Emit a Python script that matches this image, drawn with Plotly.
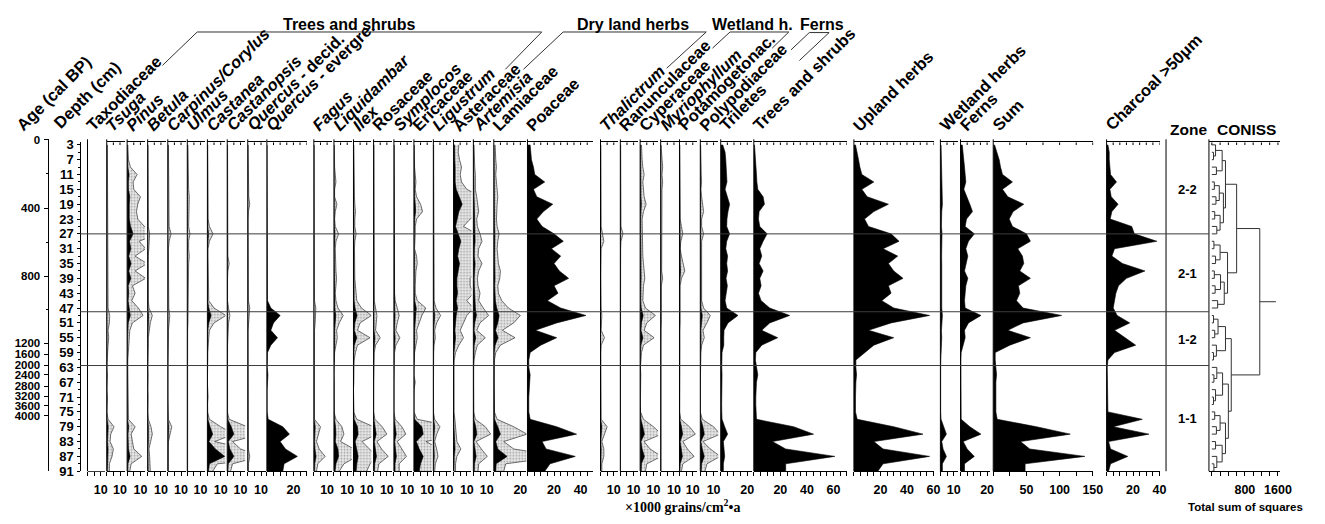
import plotly.graph_objects as go

W, H = 1325, 524


def fx(p):
    """pixel column -> paper x"""
    return p / W


def fy(p):
    """pixel row -> paper y"""
    return 1 - p / H


# ---------------------------------------------------------------- data
depth_cm = [3, 5, 7, 9, 11, 13, 15, 17, 19, 21, 23, 25, 27, 29, 31,
            33, 35, 37, 39, 41, 43, 45, 47, 49, 51, 53, 55, 57, 59, 61,
            63, 65, 67, 69, 71, 73, 75, 77, 79, 81, 83, 85, 87, 89, 91]
depth_labels = [3, 7, 11, 15, 19, 23, 27, 31, 35, 39, 43, 47,
                51, 55, 59, 63, 67, 71, 75, 79, 83, 87, 91]
depth_minor = [5, 9, 13, 17, 21, 25, 29, 33, 37, 41, 45, 49,
               53, 57, 61, 65, 69, 73, 77, 81, 85, 89]
age_labels = [0, 400, 800, 1200, 1600, 2000, 2400, 2800, 3200, 3600, 4000]
age_label_depth = [1.6, 20.1, 38.4, 56.5, 59.4, 62.4, 65.0, 68.1, 70.8, 73.3, 76.0]
age_minor_depth = [10.8, 29.2, 47.4]

zone_boundaries = [27, 48, 62.5]
zone_names = ["2-2", "2-1", "1-2", "1-1"]
zone_label_depth = [15.0, 37.7, 55.5, 76.7]

# influx values, x1000 grains/cm2/a, one value per sample depth
taxodiaceae = [0.1, 0.1, 0.1, 0.1, 0.1, 0.1, 0.1, 0.1, 0.1, 0.1, 0.1, 0.1, 0.1, 0.1, 0.1,
               0.2, 0.3, 0.1, 0.2, 0.3, 0.1, 0.2, 1.0, 2.0, 1.7, 1.0, 1.6, 1.7, 0.5, 0.1,
               0.0, 0.0, 0.1, 0.0, 0.1, 0.0, 0.0, 0.2, 0.7, 1.3, 0.3, 0.8, 2.6, 1.0, 1.0]
tsuga = [0.1, 0.1, 0.1, 0.1, 0.1, 0.1, 0.1, 0.1, 0.1, 0.1, 0.1, 0.1, 0.2, 0.1, 0.1,
         0.1, 0.1, 0.1, 0.1, 0.1, 0.1, 0.1, 0.2, 0.45, 0.4, 0.2, 0.3, 0.2, 0.1, 0.1,
         0.0, 0.1, 0.0, 0.0, 0.1, 0.0, 0.0, 0.2, 1.1, 0.6, 0.5, 1.0, 0.8, 0.4, 0.4]
pinus = [0.1, 0.1, 0.2, 0.5, 1.5, 0.9, 1.0, 2.0, 1.6, 1.4, 1.6, 2.6, 4.5, 1.8, 2.8,
         1.2, 3.0, 1.2, 2.8, 0.8, 1.2, 0.7, 1.7, 2.4, 0.8, 0.4, 0.3, 0.2, 0.2, 0.1,
         0.1, 0.1, 0.1, 0.1, 0.1, 0.1, 0.1, 0.2, 1.2, 0.6, 0.8, 1.0, 2.2, 0.6, 0.4]
betula = [0.05, 0.05, 0.1, 0.05, 0.1, 0.05, 0.1, 0.1, 0.1, 0.05, 0.1, 0.1, 0.3, 0.2, 0.1,
          0.1, 0.1, 0.1, 0.1, 0.05, 0.1, 0.1, 0.2, 0.7, 0.4, 0.2, 0.1, 0.1, 0.05, 0.05,
          0.0, 0.05, 0.0, 0.0, 0.05, 0.0, 0.0, 0.1, 0.5, 0.7, 0.5, 0.2, 0.3, 0.4, 0.4]
carpinus_corylus = [0.1, 0.1, 0.1, 0.1, 0.1, 0.1, 0.1, 0.1, 0.15, 0.1, 0.1, 0.2, 0.5, 0.2, 0.1,
                    0.1, 0.15, 0.1, 0.1, 0.1, 0.1, 0.1, 0.15, 0.3, 0.15, 0.1, 0.1, 0.05, 0.05, 0.05,
                    0.0, 0.0, 0.05, 0.0, 0.0, 0.0, 0.0, 0.1, 0.6, 0.3, 0.1, 0.1, 0.15, 0.1, 0.1]
ulmus = [0.1, 0.1, 0.15, 0.15, 0.2, 0.2, 0.2, 0.3, 0.3, 0.3, 0.2, 0.2, 0.4, 0.2, 0.2,
         0.3, 0.2, 0.2, 0.15, 0.15, 0.1, 0.1, 0.1, 0.1, 0.1, 0.05, 0.1, 0.05, 0.05, 0.05,
         0.0, 0.0, 0.0, 0.0, 0.0, 0.0, 0.0, 0.05, 0.1, 0.1, 0.05, 0.05, 0.1, 0.05, 0.05]
castanea = [0.05, 0.05, 0.05, 0.05, 0.05, 0.05, 0.05, 0.1, 0.1, 0.1, 0.1, 0.3, 0.85, 0.3, 0.1,
            0.1, 0.1, 0.1, 0.1, 0.1, 0.1, 0.2, 1.0, 2.8, 1.0, 0.3, 0.2, 0.1, 0.05, 0.05,
            0.0, 0.05, 0.0, 0.05, 0.1, 0.0, 0.0, 0.3, 2.0, 4.0, 1.1, 6.0, 13.0, 1.5, 0.8]
castanopsis = [0.05, 0.05, 0.05, 0.05, 0.05, 0.05, 0.05, 0.05, 0.1, 0.05, 0.05, 0.05, 0.1, 0.05, 0.05,
               0.1, 0.3, 0.1, 0.05, 0.05, 0.05, 0.05, 0.2, 0.4, 0.2, 0.1, 0.1, 0.05, 0.05, 0.05,
               0.0, 0.0, 0.0, 0.0, 0.0, 0.0, 0.0, 0.3, 3.0, 5.0, 0.8, 2.0, 5.0, 0.8, 0.5]
quercus_decid = [0.05, 0.05, 0.05, 0.05, 0.05, 0.05, 0.1, 0.15, 0.3, 0.1, 0.05, 0.05, 0.05, 0.05, 0.05,
                 0.05, 0.05, 0.05, 0.05, 0.05, 0.05, 0.1, 0.3, 0.2, 0.1, 0.05, 0.05, 0.05, 0.05, 0.05,
                 0.0, 0.0, 0.0, 0.0, 0.0, 0.0, 0.0, 0.05, 0.1, 0.1, 0.05, 0.1, 0.3, 0.1, 0.1]
quercus_evergr = [0.2, 0.2, 0.2, 0.2, 0.2, 0.2, 0.2, 0.2, 0.2, 0.2, 0.2, 0.2, 0.2, 0.2, 0.2,
                  0.2, 0.2, 0.2, 0.2, 0.2, 0.2, 0.5, 3.0, 10.0, 5.0, 3.0, 8.0, 3.0, 0.5, 0.3,
                  0.3, 0.8, 0.3, 0.2, 0.2, 0.2, 0.2, 1.0, 12.0, 17.0, 10.0, 14.0, 23.0, 13.0, 12.0]
fagus = [0.05, 0.05, 0.05, 0.05, 0.1, 0.05, 0.05, 0.1, 0.1, 0.05, 0.05, 0.1, 0.1, 0.05, 0.05,
         0.05, 0.1, 0.05, 0.05, 0.05, 0.1, 0.1, 0.3, 0.3, 0.2, 0.1, 0.1, 0.05, 0.05, 0.05,
         0.0, 0.0, 0.0, 0.0, 0.0, 0.0, 0.0, 0.1, 1.0, 0.7, 0.4, 0.8, 1.7, 0.6, 0.4]
liquidambar = [0.05, 0.05, 0.1, 0.1, 0.2, 0.3, 0.1, 0.1, 0.45, 0.2, 0.1, 0.2, 0.7, 0.3, 0.2,
               0.2, 0.3, 0.3, 0.4, 0.3, 0.2, 0.3, 0.6, 1.4, 0.8, 0.4, 0.5, 0.3, 0.1, 0.05,
               0.0, 0.0, 0.05, 0.0, 0.0, 0.0, 0.0, 0.3, 1.2, 1.5, 1.0, 3.0, 3.5, 1.5, 0.8]
ilex = [0.05, 0.05, 0.05, 0.05, 0.1, 0.1, 0.1, 0.15, 0.2, 0.3, 0.2, 0.2, 0.4, 0.2, 0.15,
        0.15, 0.2, 0.2, 0.2, 0.3, 0.4, 0.5, 1.2, 2.7, 1.0, 0.6, 2.5, 0.6, 0.3, 0.1,
        0.05, 0.1, 0.05, 0.0, 0.05, 0.0, 0.0, 0.5, 3.0, 3.5, 1.3, 2.5, 3.5, 2.5, 2.0]
rosaceae = [0.05, 0.05, 0.05, 0.05, 0.1, 0.1, 0.05, 0.1, 0.1, 0.1, 0.1, 0.1, 0.15, 0.1, 0.1,
            0.1, 0.1, 0.1, 0.1, 0.1, 0.1, 0.1, 0.3, 0.5, 0.4, 0.3, 1.0, 0.3, 0.1, 0.05,
            0.0, 0.0, 0.0, 0.0, 0.0, 0.0, 0.0, 0.2, 1.3, 2.0, 0.5, 1.2, 2.2, 0.8, 0.6]
symplocos = [0.05, 0.05, 0.05, 0.05, 0.1, 0.05, 0.05, 0.1, 0.1, 0.05, 0.05, 0.1, 0.1, 0.05, 0.05,
             0.05, 0.1, 0.05, 0.05, 0.05, 0.1, 0.2, 0.5, 0.8, 0.5, 0.3, 0.9, 0.3, 0.1, 0.05,
             0.0, 0.0, 0.0, 0.0, 0.0, 0.0, 0.0, 0.2, 1.2, 1.8, 0.5, 1.2, 1.9, 0.8, 0.8]
ericaceae = [0.05, 0.05, 0.1, 0.1, 0.2, 0.3, 0.2, 0.4, 1.0, 1.3, 0.4, 0.2, 0.2, 0.2, 0.1,
             0.4, 0.5, 0.3, 0.2, 0.2, 0.2, 0.5, 1.8, 1.2, 0.8, 0.4, 0.5, 0.3, 0.1, 0.05,
             0.0, 0.0, 0.2, 0.0, 0.0, 0.0, 0.0, 0.5, 6.0, 7.0, 1.8, 4.0, 7.0, 5.0, 4.0]
ligustrum = [0.05, 0.05, 0.05, 0.05, 0.05, 0.05, 0.05, 0.05, 0.05, 0.05, 0.05, 0.05, 0.1, 0.05, 0.05,
             0.05, 0.05, 0.05, 0.05, 0.05, 0.05, 0.1, 0.4, 1.1, 0.5, 0.2, 0.3, 0.1, 0.05, 0.05,
             0.0, 0.0, 0.0, 0.0, 0.0, 0.0, 0.0, 0.2, 1.0, 0.5, 0.2, 0.5, 0.7, 0.3, 0.2]
asteraceae = [0.8, 0.7, 0.9, 1.2, 1.0, 1.2, 2.0, 4.0, 6.5, 4.0, 2.5, 1.5, 3.5, 5.5, 4.0,
              3.0, 4.5, 3.5, 2.5, 2.5, 3.0, 2.0, 3.0, 2.0, 1.5, 1.0, 1.5, 0.8, 0.3, 0.1,
              0.05, 0.1, 0.05, 0.05, 0.05, 0.05, 0.05, 0.2, 0.3, 0.4, 0.5, 1.1, 0.5, 0.3, 0.3]
artemisia = [0.1, 0.1, 0.2, 0.2, 0.3, 0.3, 0.3, 0.5, 0.7, 0.8, 0.5, 0.6, 1.0, 1.3, 0.8,
             0.7, 1.3, 0.8, 0.6, 0.7, 1.0, 0.8, 1.5, 2.3, 1.0, 0.5, 1.8, 0.6, 0.3, 0.1,
             0.05, 0.05, 0.05, 0.05, 0.05, 0.05, 0.05, 0.3, 1.8, 2.6, 0.4, 1.2, 2.1, 0.8, 0.7]
lamiaceae = [0.2, 0.2, 0.3, 0.4, 0.3, 0.4, 0.5, 0.6, 0.5, 0.4, 0.4, 0.5, 0.8, 0.6, 0.5,
             0.6, 0.7, 1.0, 0.9, 0.6, 0.7, 1.2, 2.2, 4.0, 3.0, 1.3, 3.2, 1.0, 0.3, 0.1,
             0.1, 0.1, 0.1, 0.1, 0.1, 0.1, 0.1, 0.5, 3.0, 5.0, 1.5, 3.0, 10.0, 1.8, 1.5]
poaceae = [2, 2.5, 3, 4.5, 5.5, 13, 4.5, 7, 19, 12, 7, 11, 20, 27, 18,
           25, 20, 24, 31, 20, 23, 15, 25, 44, 22, 6, 22, 10, 2, 1,
           1, 2, 1.5, 1, 1, 1, 1, 2, 22, 37, 11, 14, 36, 17, 13]
thalictrum = [0.05, 0.05, 0.05, 0.05, 0.05, 0.05, 0.05, 0.05, 0.1, 0.05, 0.05, 0.1, 0.3, 0.5, 0.1,
              0.05, 0.05, 0.05, 0.05, 0.05, 0.05, 0.05, 0.1, 0.2, 0.1, 0.1, 0.6, 0.1, 0.05, 0.05,
              0.0, 0.0, 0.0, 0.0, 0.0, 0.0, 0.0, 0.1, 1.0, 0.6, 0.2, 0.5, 0.5, 0.2, 0.2]
ranunculaceae = [0.05, 0.05, 0.05, 0.05, 0.05, 0.05, 0.05, 0.05, 0.1, 0.05, 0.05, 0.1, 0.4, 0.1, 0.05,
                 0.05, 0.05, 0.05, 0.05, 0.05, 0.05, 0.05, 0.05, 0.1, 0.05, 0.05, 0.05, 0.05, 0.05, 0.05,
                 0.0, 0.0, 0.0, 0.0, 0.0, 0.0, 0.0, 0.0, 0.05, 0.05, 0.0, 0.05, 0.05, 0.0, 0.0]
cyperaceae = [0.2, 0.2, 0.3, 0.4, 0.6, 0.4, 0.5, 0.6, 0.9, 0.5, 0.3, 0.3, 0.4, 0.3, 0.3,
              0.4, 0.5, 0.6, 0.7, 0.5, 0.4, 0.4, 0.8, 2.3, 1.0, 0.6, 2.1, 0.5, 0.2, 0.1,
              0.05, 0.1, 0.05, 0.05, 0.05, 0.05, 0.05, 0.5, 2.0, 3.2, 0.6, 1.5, 3.2, 1.0, 0.8]
myriophyllum = [0.05, 0.1, 0.2, 0.3, 0.2, 0.3, 0.2, 0.2, 0.2, 0.2, 0.1, 0.1, 0.15, 0.1, 0.1,
                0.1, 0.1, 0.15, 0.3, 0.1, 0.1, 0.1, 0.1, 0.2, 0.1, 0.05, 0.1, 0.05, 0.05, 0.05,
                0.0, 0.0, 0.0, 0.0, 0.0, 0.0, 0.0, 0.0, 0.1, 0.1, 0.05, 0.05, 0.1, 0.05, 0.05]
potamogetonaceae = [0.05, 0.05, 0.05, 0.05, 0.1, 0.1, 0.1, 0.1, 0.15, 0.1, 0.1, 0.3, 0.5, 0.2, 0.1,
                    0.3, 0.6, 0.8, 0.3, 0.1, 0.1, 0.1, 0.1, 0.2, 0.1, 0.05, 0.1, 0.05, 0.05, 0.05,
                    0.0, 0.0, 0.0, 0.0, 0.0, 0.0, 0.0, 0.2, 1.5, 2.4, 0.5, 1.2, 2.2, 0.5, 0.3]
polypodiaceae = [0.05, 0.05, 0.1, 0.1, 0.15, 0.2, 0.1, 0.2, 0.4, 0.5, 0.2, 0.2, 0.5, 0.2, 0.2,
                 0.2, 0.2, 0.2, 0.2, 0.2, 0.2, 0.2, 0.5, 1.5, 1.0, 0.4, 0.6, 0.2, 0.1, 0.05,
                 0.0, 0.0, 0.0, 0.0, 0.0, 0.0, 0.0, 0.3, 2.0, 3.0, 0.4, 1.5, 3.0, 1.0, 0.7]
triletes = [1.5, 3.3, 3.8, 4.0, 4.5, 4.7, 3.3, 5.2, 6.7, 5.5, 4.7, 4.5, 6.7, 4.5, 3.8,
            5.2, 4.5, 5.2, 4.0, 5.0, 4.0, 3.3, 4.5, 13.0, 5.5, 2.5, 2.3, 2.3, 1.0, 0.8,
            0.8, 1.0, 0.8, 0.7, 0.7, 0.7, 0.8, 1.0, 3.0, 5.2, 2.0, 2.5, 3.0, 2.0, 2.0]
trees_shrubs = [0.5, 1, 1.2, 1.5, 2, 2.3, 3, 7, 8, 4, 3.5, 4.5, 10, 7, 4.5,
                6, 4, 7, 4.5, 5.5, 3.5, 5.5, 12, 27, 12, 6, 18, 6, 1.5, 1.2,
                2, 3, 2, 1.5, 1.5, 1.5, 1.5, 2, 30, 45, 14, 24, 61, 24, 24]
upland_herbs = [1.2, 2.5, 3.5, 4.5, 6, 15, 6, 10, 26, 15, 8, 11, 28, 34, 22,
                33, 26, 30, 37, 26, 28, 21, 30, 57, 28, 11, 30, 15, 8, 1.5,
                1.5, 2, 1.5, 1.2, 1.2, 1.2, 1.2, 2.5, 30, 52, 15, 22, 57, 22, 18]
wetland_herbs = [0.5, 0.6, 0.7, 0.8, 0.8, 0.9, 0.8, 1.0, 1.5, 1.0, 0.8, 0.8, 1.2, 1.0, 0.8,
                 0.9, 1.0, 1.0, 1.2, 0.9, 0.8, 0.8, 1.0, 1.5, 1.0, 0.8, 1.0, 0.6, 0.4, 0.3,
                 0.2, 0.3, 0.2, 0.2, 0.2, 0.2, 0.2, 0.5, 2.5, 4.5, 1.0, 2.0, 4.5, 1.5, 1.5]
ferns = [1.3, 2, 2.5, 3, 3.5, 4, 2.5, 5, 7, 9, 4.5, 3.5, 10.4, 6, 4,
         5.5, 4.5, 3, 5.5, 4, 3.5, 3, 3.5, 15.4, 6, 3, 3.5, 2, 0.5, 0.3,
         0.3, 0.3, 0.3, 0.3, 0.3, 0.3, 0.3, 0.5, 7, 15.4, 2, 5, 10.4, 3, 3]
pollen_sum = [2, 6, 9, 11, 14, 29, 14, 22, 46, 30, 24, 29, 50, 56, 37,
              44, 46, 40, 56, 38, 40, 35, 45, 103, 45, 22, 56, 25, 3, 3,
              4, 5, 4, 4, 4, 4, 4, 6, 65, 116, 41, 55, 138, 48, 48]
charcoal = [1, 2, 2, 2.7, 3, 7.5, 2.5, 3.5, 8.7, 4, 2.7, 19, 21, 38, 6,
            4, 12, 29, 15, 9, 7, 6, 5, 8, 17.5, 6, 14, 22, 6, 1,
            0.5, 0.5, 0.5, 0.5, 0.5, 0.5, 1, 27, 5, 32, 1.5, 3, 16, 3, 1.5]

# constrained cluster analysis: (first leaf, first leaf of right branch, last leaf, sum of squares)
coniss_merges = [
    (0, 23, 44, 1160), (0, 13, 22, 600), (23, 30, 44, 470),
    (0, 5, 12, 330), (0, 3, 4, 250), (0, 1, 2, 90), (1, 2, 2, 40), (3, 4, 4, 110),
    (5, 9, 12, 280), (5, 7, 8, 180), (5, 6, 6, 60), (7, 8, 8, 100),
    (9, 11, 12, 200), (9, 10, 10, 70), (11, 12, 12, 120),
    (13, 17, 22, 380), (13, 15, 16, 200), (13, 14, 14, 50), (15, 16, 16, 90),
    (17, 21, 22, 300), (17, 19, 20, 210), (17, 18, 18, 60), (19, 20, 20, 80), (21, 22, 22, 140),
    (23, 27, 29, 330), (23, 25, 26, 150), (23, 24, 24, 40), (25, 26, 26, 70),
    (27, 28, 29, 110), (28, 29, 29, 40),
    (30, 36, 44, 400), (30, 33, 35, 260), (30, 31, 32, 120), (31, 32, 32, 50),
    (33, 34, 35, 90), (34, 35, 35, 40),
    (36, 40, 44, 330), (36, 38, 39, 200), (36, 37, 37, 70), (38, 39, 39, 110),
    (40, 42, 44, 250), (40, 41, 41, 90), (42, 43, 44, 120), (43, 44, 44, 50),
]
coniss_root_stub = 1550

EXAG = 5  # exaggeration of the stippled curves

# ---------------------------------------------------------------- panel layout
PPU = 1.34  # pixels per 1000 grains/cm2/a


def axis_spec(xmax, step, labelled, ppu=PPU):
    ticks = []
    v = 0
    while v <= xmax + 1e-9:
        ticks.append(v)
        v += step
    return dict(xmax=xmax, ticks=ticks, labelled=labelled, ppu=ppu)


NARROW = axis_spec(13.5, 5, [10])

panels = [
    ("Taxodiaceae", taxodiaceae, 88.3, True, NARROW),
    ("<i>Tsuga</i>", tsuga, 107.7, True, NARROW),
    ("<i>Pinus</i>", pinus, 128.3, True, NARROW),
    ("<i>Betula</i>", betula, 149.0, True, NARROW),
    ("<i>Carpinus/Corylus</i>", carpinus_corylus, 169.3, True, NARROW),
    ("<i>Ulmus</i>", ulmus, 189.0, True, NARROW),
    ("<i>Castanea</i>", castanea, 209.3, True, NARROW),
    ("<i>Castanopsis</i>", castanopsis, 229.3, True, NARROW),
    ("<i>Quercus</i> - decid.", quercus_decid, 250.0, True, NARROW),
    ("<i>Quercus</i> - evergre.", quercus_evergr, 269.3, False, axis_spec(30, 5, [20])),
    ("<i>Fagus</i>", fagus, 316.7, True, NARROW),
    ("<i>Liquidambar</i>", liquidambar, 337.0, True, NARROW),
    ("<i>Ilex</i>", ilex, 356.7, True, NARROW),
    ("Rosaceae", rosaceae, 377.0, True, NARROW),
    ("<i>Symplocos</i>", symplocos, 397.5, True, NARROW),
    ("Ericaceae", ericaceae, 417.7, True, NARROW),
    ("<i>Ligustrum</i>", ligustrum, 437.3, True, NARROW),
    ("Asteraceae", asteraceae, 457.7, True, NARROW),
    ("<i>Artemisia</i>", artemisia, 477.7, True, NARROW),
    ("Lamiaceae", lamiaceae, 498.3, True, axis_spec(24.5, 5, [20])),
    ("Poaceae", poaceae, 532.3, False, axis_spec(49, 5, [20, 40])),
    ("<i>Thalictrum</i>", thalictrum, 606.0, True, NARROW),
    ("Ranunculaceae", ranunculaceae, 626.0, True, NARROW),
    ("Cyperaceae", cyperaceae, 646.0, True, NARROW),
    ("<i>Myriophyllum</i>", myriophyllum, 666.7, True, NARROW),
    ("Potamogetonac.", potamogetonaceae, 685.7, True, NARROW),
    ("Polypodiaceae", polypodiaceae, 706.7, True, NARROW),
    ("Triletes", triletes, 727.3, False, axis_spec(23.5, 5, [20])),
    ("Trees and shrubs", trees_shrubs, 760.7, False, axis_spec(70, 5, [20, 40, 60])),
    ("Upland herbs", upland_herbs, 861.7, False, axis_spec(60, 5, [20, 40, 60])),
    ("Wetland herbs", wetland_herbs, 949.0, False, NARROW),
    ("Ferns", ferns, 969.3, False, axis_spec(22, 5, [20])),
    ("Sum", pollen_sum, 1002.3, False, axis_spec(151, 25, [50, 100, 150], ppu=0.67)),
    ("Charcoal >50μm", charcoal, 1116.7, False, axis_spec(40, 5, [20, 40], ppu=1.335)),
]

Y_TOP, Y_BOT = 140.0, 478.0          # pixel rows of the profile area
DEPTH_TOP = 2.3                      # depth at the upper frame line
TOP_TICK = 0.75                      # length of the inward ticks on the upper frame (cm)
LINE_TOP = 137.0                     # panel axes rise slightly above the frame
FONT = "Liberation Sans, Arial, sans-serif"
TICKFONT = dict(family=FONT, size=12.5, color="black", weight="bold")
LABEL_FONT = dict(family=FONT, size=16.5, color="black", weight="bold")

fig = go.Figure()
layout_axes = {}
shapes = []
annotations = []


def axis_key(n):
    return ("xaxis" if n == 1 else f"xaxis{n}"), ("x" if n == 1 else f"x{n}")


def top_ticks(ref, ticks):
    tx, ty = [], []
    for t in ticks:
        tx.extend([t, t, None])
        ty.extend([DEPTH_TOP, DEPTH_TOP + TOP_TICK, None])
    fig.add_trace(go.Scatter(x=tx, y=ty, xaxis=ref, yaxis="y", mode="lines",
                             line=dict(color="black", width=1), hoverinfo="skip"))


for n, (label, vals, x0, exag, spec) in enumerate(panels, start=1):
    key, ref = axis_key(n)
    x1 = x0 + spec["xmax"] * spec["ppu"]
    layout_axes[key] = dict(
        domain=[fx(x0), fx(x1)], range=[0, spec["xmax"]], anchor="y",
        showline=True, linecolor="black", linewidth=1, mirror=True,
        ticks="outside", ticklen=4, tickwidth=1, tickcolor="black",
        ticklabelstandoff=3,
        tickvals=spec["ticks"],
        ticktext=[str(t) if t in spec["labelled"] else "" for t in spec["ticks"]],
        tickfont=TICKFONT, showgrid=False, zeroline=False, fixedrange=True,
    )
    if exag:
        fig.add_trace(go.Scatter(
            x=[v * EXAG for v in vals], y=depth_cm, xaxis=ref, yaxis="y",
            mode="lines", fill="tozerox", fillcolor="#e4e4e4",
            fillpattern=dict(shape=".", fgcolor="#555555", bgcolor="#ececec",
                             size=3, solidity=0.35),
            line=dict(color="#333333", width=0.7), hoverinfo="skip"))
    fig.add_trace(go.Scatter(
        x=vals, y=depth_cm, xaxis=ref, yaxis="y", mode="lines",
        fill="tozerox", fillcolor="black",
        line=dict(color="black", width=0.6), hoverinfo="skip"))
    top_ticks(ref, spec["ticks"][1:])
    # left axis of the panel
    shapes.append(dict(type="line", xref="paper", yref="paper",
                       x0=fx(x0), x1=fx(x0), y0=fy(LINE_TOP), y1=fy(Y_BOT),
                       line=dict(color="black", width=1)))
    # rotated taxon name
    annotations.append(dict(
        text=label, xref="paper", yref="paper",
        x=fx(x0 - 7.5), y=fy(134.5), xanchor="left", yanchor="bottom",
        textangle=-45, showarrow=False, font=LABEL_FONT))

# ---------------------------------------------------------------- CONISS
n_coniss = len(panels) + 1
key, coniss_ref = axis_key(n_coniss)
coniss_ticks = [0, 200, 400, 600, 800, 1000, 1200, 1400, 1600]
layout_axes[key] = dict(
    domain=[fx(1220.0), fx(1292.0)], range=[-70, 1657], anchor="y",
    showline=True, linecolor="black", linewidth=1, mirror=True,
    ticks="outside", ticklen=4, tickcolor="black", ticklabelstandoff=3,
    tickvals=coniss_ticks,
    ticktext=["", "", "", "", "800", "", "", "", "1600"],
    tickfont=TICKFONT, showgrid=False, zeroline=False, fixedrange=True)
top_ticks(coniss_ref, coniss_ticks)

merge_lookup = {(a, c): (m, h) for a, m, c, h in coniss_merges}
seg_x, seg_y = [], []


def build(a, c):
    if a == c:
        return 0.0, depth_cm[a]
    m, h = merge_lookup[(a, c)]
    lx, ly = build(a, m - 1)
    rx, ry = build(m, c)
    seg_x.extend([lx, h, h, rx, None])
    seg_y.extend([ly, ly, ry, ry, None])
    return h, (ly + ry) / 2


root_h, root_y = build(0, len(depth_cm) - 1)
seg_x.extend([root_h, coniss_root_stub, None])
seg_y.extend([root_y, root_y, None])
fig.add_trace(go.Scatter(x=seg_x, y=seg_y, xaxis=coniss_ref, yaxis="y",
                         mode="lines", line=dict(color="#333333", width=1),
                         hoverinfo="skip"))
shapes.append(dict(type="line", xref="paper", yref="paper",
                   x0=fx(1220.0), x1=fx(1220.0), y0=fy(LINE_TOP), y1=fy(Y_BOT),
                   line=dict(color="black", width=1)))
# zone column
shapes.append(dict(type="line", xref="paper", yref="paper",
                   x0=fx(1176.7), x1=fx(1176.7), y0=fy(LINE_TOP), y1=fy(Y_BOT),
                   line=dict(color="black", width=1)))
for zname, zd in zip(zone_names, zone_label_depth):
    annotations.append(dict(text=zname, xref="paper", yref="y", x=fx(1198.5), y=zd,
                            showarrow=False, xanchor="center", yanchor="middle",
                            font=dict(family=FONT, size=13, color="black", weight="bold")))
for zb in zone_boundaries:
    shapes.append(dict(type="line", xref="paper", yref="y", x0=fx(81.0), x1=fx(1220.0),
                       y0=zb, y1=zb, line=dict(color="#3c3c3c", width=1)))

# age scale (needs a trace to exist)
fig.add_trace(go.Scatter(x=[0], y=[50], xaxis="x", yaxis="y2", mode="markers",
                         marker=dict(opacity=0), hoverinfo="skip"))

layout_axes["yaxis"] = dict(
    domain=[fy(Y_BOT), fy(Y_TOP)], range=[91, DEPTH_TOP], anchor="free", position=fx(81.0),
    showline=True, linecolor="black", linewidth=1, ticks="outside", ticklen=3,
    tickcolor="black", tickvals=depth_labels, ticktext=[str(d) for d in depth_labels],
    ticklabelstandoff=1,
    minor=dict(tickvals=depth_minor, ticklen=2, ticks="outside", tickcolor="black"),
    tickfont=dict(family=FONT, size=13, color="black", weight="bold"),
    showgrid=False, zeroline=False, fixedrange=True)
layout_axes["yaxis2"] = dict(
    domain=[fy(Y_BOT), fy(LINE_TOP)], range=[91, 1.5], anchor="free", position=fx(48.0),
    showline=True, linecolor="black", linewidth=1, ticks="outside", ticklen=4,
    tickcolor="black", tickvals=age_label_depth, ticktext=[str(a) for a in age_labels],
    ticklabelstandoff=1,
    minor=dict(tickvals=age_minor_depth, ticklen=2, ticks="outside", tickcolor="black"),
    tickfont=dict(family=FONT, size=11.5, color="black", weight="bold"),
    showgrid=False, zeroline=False, fixedrange=True)

# ---------------------------------------------------------------- titles
for text, x, y in [("Age (cal BP)", 20 - 9.5, 134.0), ("Depth (cm)", 57 - 9.5, 132.0)]:
    annotations.append(dict(text=text, xref="paper", yref="paper", x=fx(x), y=fy(y),
                            xanchor="left", yanchor="bottom", textangle=-45, showarrow=False,
                            font=LABEL_FONT))

HEAD = dict(family=FONT, size=16, color="black", weight="bold")
for text, cx in [("Trees and shrubs", 353), ("Dry land herbs", 639),
                 ("Wetland h.", 759), ("Ferns", 830)]:
    annotations.append(dict(text=text, xref="paper", yref="paper", x=fx(cx), y=fy(18.5),
                            xanchor="center", yanchor="middle", showarrow=False, font=HEAD))
for text, cx in [("Zone", 1199.5), ("CONISS", 1257.5)]:
    annotations.append(dict(text=text, xref="paper", yref="paper", x=fx(cx), y=fy(127),
                            xanchor="center", yanchor="middle", showarrow=False,
                            font=dict(family=FONT, size=15.5, color="black", weight="bold")))
annotations.append(dict(text="×1000 grains/cm<sup>2</sup>•a", xref="paper", yref="paper",
                        x=fx(689), y=fy(514), xanchor="center", yanchor="middle",
                        showarrow=False,
                        font=dict(family="Liberation Serif, serif", size=14, color="black",
                                  weight="bold")))
annotations.append(dict(text="Total sum of squares", xref="paper", yref="paper",
                        x=fx(1257), y=fy(515), xanchor="center", yanchor="middle",
                        showarrow=False,
                        font=dict(family=FONT, size=11.5, color="black", weight="bold")))

# group leader lines
leaders = [
    ((199, 26.7), (546.7, 26.7)), ((199, 26.7), (164, 61)), ((546.7, 26.7), (510, 65)),
    ((568.3, 26.7), (712.7, 26.7)), ((568.3, 26.7), (528.3, 65)), ((712.7, 26.7), (672.7, 64)),
    ((736.7, 26.7), (796, 26.7)), ((736.7, 26.7), (719, 43.3)), ((796, 26.7), (779.3, 43.3)),
    ((816.7, 27.3), (836.7, 27.3)), ((816.7, 27.3), (798.3, 45)), ((836.7, 27.3), (806.7, 56)),
]
for (ax, ay), (bx, by) in leaders:
    shapes.append(dict(type="line", xref="paper", yref="paper", x0=fx(ax), y0=fy(ay),
                       x1=fx(bx), y1=fy(by), line=dict(color="#333333", width=1)))

fig.update_layout(
    width=W, height=H, margin=dict(l=0, r=0, t=0, b=0),
    paper_bgcolor="white", plot_bgcolor="white", showlegend=False,
    font=dict(family=FONT, color="black"),
    shapes=shapes, annotations=annotations, **layout_axes)

fig.write_html("out.html")
